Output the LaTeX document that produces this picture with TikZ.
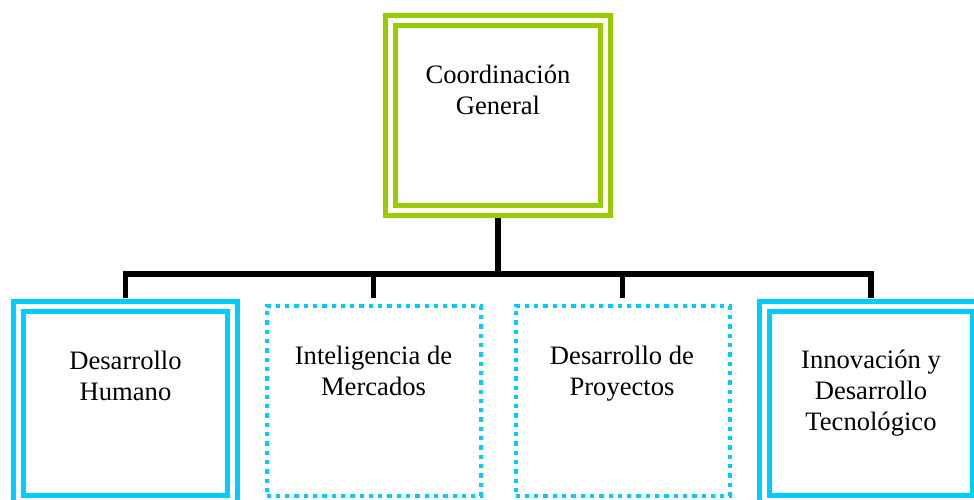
\documentclass[tikz,border=0pt]{standalone}
\usepackage{fontspec}
\setmainfont{Liberation Serif}
\definecolor{lgreen}{RGB}{153,204,0}
\definecolor{lcyan}{RGB}{0,204,255}
\begin{document}
\begin{tikzpicture}[x=1pt,y=-1pt,
  dbox/.style={draw, line width=5pt, double=white, double distance=5pt, inner sep=0pt, outer sep=0pt},
  dotbox/.style={draw=lcyan, line width=4pt, dash pattern=on 4.3pt off 5pt, inner sep=0pt, outer sep=0pt,
    minimum width=214pt, minimum height=190pt},
  conn/.style={draw=black, line width=5.5pt},
  txt/.style={font=\fontsize{26.6}{31}\selectfont, align=center, anchor=base, inner sep=0pt}]
\useasboundingbox (0,0) rectangle (974,499);
\clip (0,0) rectangle (974,499);
\node[dbox, draw=lgreen, minimum width=215pt, minimum height=190pt] (top) at (498,115.5) {};
\node[dbox, draw=lcyan, minimum width=214pt, minimum height=194pt] (b1) at (125.5,403) {};
\node[dotbox] (b2) at (373.5,401) {};
\node[dotbox] (b3) at (622.5,401) {};
\node[dbox, draw=lcyan, minimum width=213pt, minimum height=194pt] (b4) at (871,403) {};
\coordinate (bus) at (498,274);
\draw[conn, shorten <=7.5pt] (top.south) -- (bus);
\draw[conn, shorten <=8pt, shorten >=8pt] (b1.north) |- (bus) -| (b4.north);
\draw[conn, shorten >=8pt] (bus -| b2.north) -- (b2.north);
\draw[conn, shorten >=8pt] (bus -| b3.north) -- (b3.north);
\node[txt] (t0) at (498,114) {Coordinación\\General};
\node[txt] (t1) at (125.5,400.5) {Desarrollo\\Humano};
\node[txt] (t2) at (373.5,395) {Inteligencia de\\Mercados};
\node[txt] (t3) at (622,395) {Desarrollo de\\Proyectos};
\node[txt] (t4) at (871,430) {Innovación y\\Desarrollo\\Tecnológico};
\end{tikzpicture}
\end{document}
